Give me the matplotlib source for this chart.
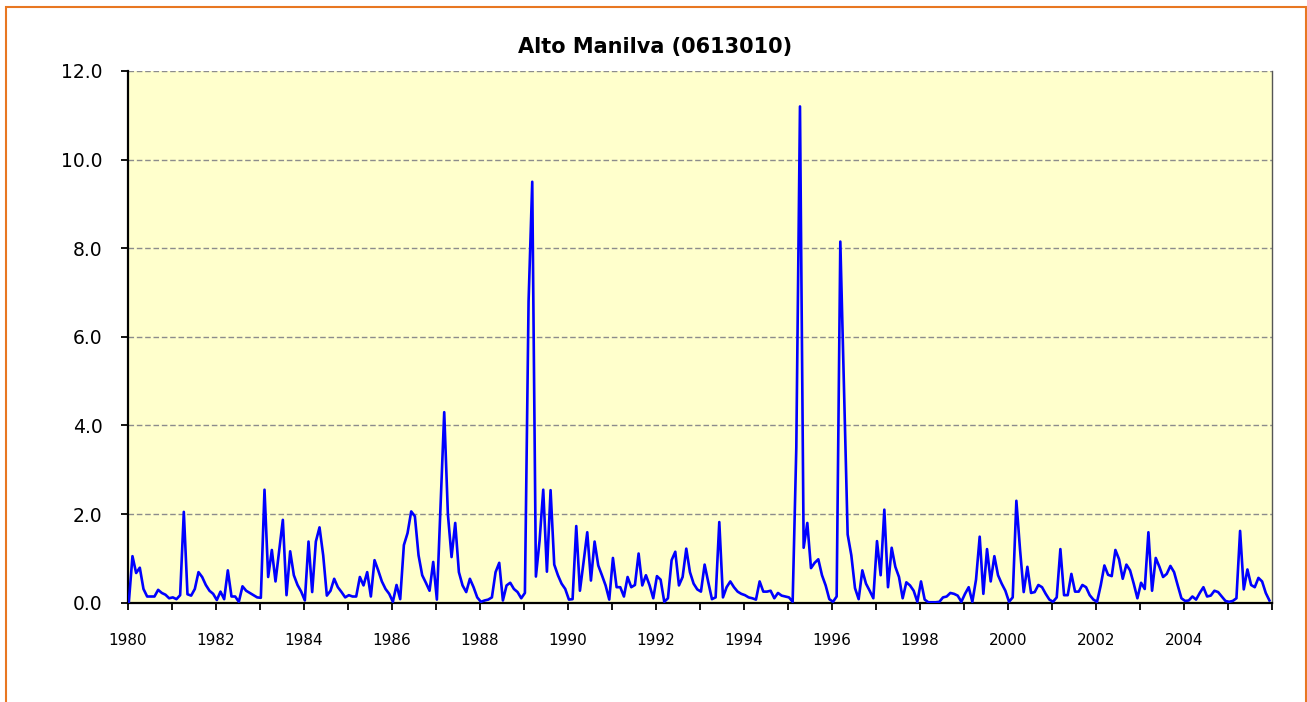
import numpy as np
import matplotlib
matplotlib.use("Agg")
import matplotlib.pyplot as plt
from matplotlib.patches import Rectangle

# monthly values, Jan 1980 .. Dec 2005
v_1980_1984 = [0.0, 1.05, 0.67, 0.79, 0.31, 0.14, 0.14, 0.14, 0.29, 0.22, 0.18, 0.10,
               0.12, 0.08, 0.17, 2.05, 0.19, 0.16, 0.31, 0.69, 0.58, 0.40, 0.27, 0.20,
               0.06, 0.25, 0.08, 0.73, 0.14, 0.14, 0.02, 0.37, 0.27, 0.22, 0.17, 0.12,
               0.11, 2.55, 0.58, 1.19, 0.48, 1.18, 1.87, 0.17, 1.16, 0.62, 0.40, 0.25,
               0.05, 1.38, 0.24, 1.38, 1.70, 1.07, 0.16, 0.27, 0.54, 0.35, 0.24, 0.12]
v_1985_1989 = [0.17, 0.14, 0.14, 0.58, 0.39, 0.69, 0.14, 0.96, 0.73, 0.48, 0.31, 0.20,
               0.02, 0.40, 0.08, 1.30, 1.57, 2.06, 1.95, 1.07, 0.62, 0.45, 0.27, 0.92,
               0.07, 2.20, 4.30, 2.00, 1.03, 1.80, 0.69, 0.39, 0.24, 0.54, 0.35, 0.12,
               0.02, 0.05, 0.07, 0.12, 0.69, 0.90, 0.05, 0.39, 0.45, 0.31, 0.24, 0.10,
               0.22, 6.80, 9.50, 0.59, 1.40, 2.55, 0.70, 2.54, 0.86, 0.62, 0.43, 0.31]
v_1990_1994 = [0.07, 0.08, 1.73, 0.27, 0.92, 1.59, 0.50, 1.38, 0.84, 0.62, 0.39, 0.07,
               1.01, 0.35, 0.35, 0.14, 0.58, 0.35, 0.40, 1.11, 0.39, 0.62, 0.39, 0.10,
               0.60, 0.52, 0.02, 0.10, 0.96, 1.15, 0.39, 0.58, 1.22, 0.69, 0.43, 0.30,
               0.25, 0.86, 0.46, 0.08, 0.12, 1.82, 0.12, 0.35, 0.48, 0.35, 0.25, 0.20,
               0.17, 0.12, 0.10, 0.07, 0.48, 0.25, 0.25, 0.27, 0.10, 0.22, 0.16, 0.14]
v_1995_1999 = [0.12, 0.02, 3.50, 11.2, 1.24, 1.80, 0.78, 0.90, 0.98, 0.62, 0.39, 0.08,
               0.02, 0.14, 8.15, 4.85, 1.54, 1.07, 0.33, 0.08, 0.73, 0.43, 0.27, 0.10,
               1.39, 0.62, 2.10, 0.35, 1.24, 0.81, 0.58, 0.10, 0.46, 0.39, 0.27, 0.02,
               0.48, 0.07, 0.01, 0.01, 0.01, 0.02, 0.12, 0.14, 0.22, 0.20, 0.16, 0.02,
               0.20, 0.35, 0.02, 0.52, 1.49, 0.20, 1.21, 0.48, 1.05, 0.62, 0.43, 0.27]
v_2000_2005 = [0.02, 0.12, 2.30, 1.20, 0.24, 0.81, 0.22, 0.24, 0.40, 0.35, 0.20, 0.07,
               0.02, 0.12, 1.21, 0.17, 0.17, 0.65, 0.25, 0.25, 0.40, 0.35, 0.17, 0.07,
               0.02, 0.39, 0.84, 0.63, 0.60, 1.19, 0.98, 0.54, 0.86, 0.73, 0.43, 0.10,
               0.45, 0.31, 1.59, 0.27, 1.01, 0.81, 0.58, 0.65, 0.83, 0.69, 0.39, 0.10,
               0.04, 0.05, 0.14, 0.07, 0.22, 0.35, 0.14, 0.16, 0.27, 0.24, 0.14, 0.04,
               0.02, 0.04, 0.10, 1.62, 0.30, 0.75, 0.40, 0.35, 0.56, 0.48, 0.22, 0.05]

values = v_1980_1984 + v_1985_1989 + v_1990_1994 + v_1995_1999 + v_2000_2005
years = list(range(1980, 2007))
title = "Alto Manilva (0613010)"

W, H = 1307, 702
fig = plt.figure(figsize=(W / 100, H / 100), dpi=100)
fig.patch.set_facecolor("white")

# orange chart-area border
fig.patches.append(Rectangle((5.7 / W, -0.01), (1306 - 5.7) / W, 1.01 - 7.3 / H,
                             transform=fig.transFigure, fill=False,
                             edgecolor="#E87722", lw=1.5))

ax = fig.add_axes([127.7 / W, 1 - 602.7 / H, (1272 - 127.7) / W, (602.7 - 71) / H])
ax.set_facecolor("#FFFFCC")

x = np.arange(len(values)) + 0.3
ax.plot(x, values, color="#0000FF", lw=1.9, zorder=3)

ax.set_xlim(0, 312)
ax.set_ylim(0, 12)

ax.set_yticks(np.arange(0, 12.1, 2))
ax.set_yticklabels([f"{v:.1f}" for v in np.arange(0, 12.1, 2)])
ax.set_xticks([12 * (y - 1980) for y in years])
ax.set_xticklabels([str(y) if (y - 1980) % 2 == 0 and y <= 2004 else "" for y in years])

ax.yaxis.grid(True, color="#8C8C8C", ls=(0, (4, 2)), lw=1.0)
ax.set_axisbelow(True)

for s in ["left", "bottom"]:
    ax.spines[s].set_linewidth(1.6)
    ax.spines[s].set_color("black")
ax.spines["top"].set_visible(False)
ax.spines["right"].set_color("#555555")
ax.spines["right"].set_linewidth(1.0)

ax.tick_params(axis="y", direction="out", length=5, width=1.3, pad=13, labelsize=13.5)
ax.tick_params(axis="x", direction="out", length=5, width=1.3, pad=17, labelsize=11)

fig.text(655 / W, 1 - 47 / H, title, ha="center", va="center",
         fontsize=15, fontweight="bold")

fig.savefig("out.png", dpi=100)
